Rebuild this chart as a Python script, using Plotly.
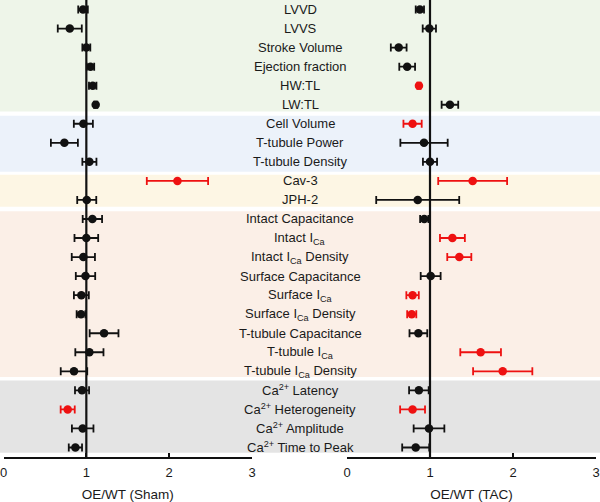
import plotly.graph_objects as go

categories = [
    "LVVD", "LVVS", "Stroke Volume", "Ejection fraction", "HW:TL", "LW:TL",
    "Cell Volume", "T-tubule Power", "T-tubule Density",
    "Cav-3", "JPH-2",
    "Intact Capacitance", "Intact I<sub>Ca</sub>", "Intact I<sub>Ca</sub> Density",
    "Surface Capacitance", "Surface I<sub>Ca</sub>", "Surface I<sub>Ca</sub> Density",
    "T-tubule Capacitance", "T-tubule I<sub>Ca</sub>", "T-tubule I<sub>Ca</sub> Density",
    "Ca<sup>2+</sup> Latency", "Ca<sup>2+</sup> Heterogeneity",
    "Ca<sup>2+</sup> Amplitude", "Ca<sup>2+</sup> Time to Peak",
]

sham_mean = [0.96, 0.80, 1.00, 1.05, 1.077, 1.113,
             0.964, 0.735, 1.037,
             2.10, 1.005,
             1.073, 1.00, 0.964, 0.99, 0.94, 0.936, 1.214, 1.037, 0.851,
             0.948, 0.775, 0.956, 0.868]
sham_err = [0.058, 0.145, 0.048, 0.045, 0.045, 0.02,
            0.115, 0.163, 0.085,
            0.37, 0.115,
            0.117, 0.143, 0.14, 0.117, 0.09, 0.053, 0.174, 0.17, 0.16,
            0.085, 0.085, 0.13, 0.08]
sham_sig = [False, False, False, False, False, False,
            False, False, False,
            True, False,
            False, False, False, False, False, False, False, False, False,
            False, True, False, False]

tac_mean = [0.878, 0.992, 0.623, 0.725, 0.867, 1.24,
            0.79, 0.928, 1.0,
            1.514, 0.852,
            0.931, 1.27, 1.353, 1.008, 0.79, 0.78, 0.86, 1.61, 1.876,
            0.866, 0.79, 0.988, 0.828]
tac_err = [0.05, 0.08, 0.095, 0.095, 0.02, 0.1,
           0.11, 0.285, 0.085,
           0.415, 0.5,
           0.05, 0.15, 0.145, 0.12, 0.075, 0.055, 0.107, 0.245, 0.357,
           0.118, 0.15, 0.185, 0.163]
tac_sig = [False, False, False, False, True, False,
           True, False, False,
           True, False,
           False, True, True, False, True, True, False, True, True,
           False, True, False, False]

tick_vals = [0, 1, 2, 3]
x_titles = ["OE/WT (Sham)", "OE/WT (TAC)"]

# groups: (first index, last index, colour)
groups = [
    (0, 5, "#eef5e9"),
    (6, 8, "#ecf2fa"),
    (9, 10, "#fdf6e4"),
    (11, 19, "#fbefe7"),
    (20, 23, "#e4e4e4"),
]

BLACK = "#111111"
RED = "#ee1111"
FONT = "Liberation Sans, Arial, sans-serif"

fig = go.Figure()

band_edges = {
    0: (-0.6, 5.36), 1: (5.58, 8.52), 2: (8.68, 10.36), 3: (10.6, 19.3), 4: (19.48, 23.28)
}
for gi, (a, b, col) in enumerate(groups):
    y0, y1 = band_edges[gi]
    fig.add_shape(type="rect", xref="paper", x0=0, x1=1, yref="y", y0=y0, y1=y1,
                  fillcolor=col, line_width=0, layer="below")

def add_panel(means, errs, sigs, xa):
    for sig, col in ((False, BLACK), (True, RED)):
        idx = [i for i in range(len(categories)) if sigs[i] == sig]
        fig.add_trace(go.Scatter(
            x=[means[i] for i in idx],
            y=[categories[i] for i in idx],
            xaxis=xa, yaxis="y",
            mode="markers",
            marker=dict(color=col, size=8.5),
            error_x=dict(type="data", array=[errs[i] for i in idx],
                         color=col, thickness=1.8, width=4),
            showlegend=False, hoverinfo="skip",
        ))

add_panel(sham_mean, sham_err, sham_sig, "x")
add_panel(tac_mean, tac_err, tac_sig, "x2")

for xr in ("x", "x2"):
    fig.add_shape(type="line", xref=xr, x0=1, x1=1, yref="paper", y0=0, y1=1,
                  line=dict(color=BLACK, width=2.2))

for c in categories:
    fig.add_annotation(x=0.5, xref="paper", y=c, yref="y", text=c, showarrow=False,
                       xanchor="center", yanchor="middle",
                       font=dict(family=FONT, size=13, color="#1a1a1a"))

axis_common = dict(range=[0, 3], tickvals=tick_vals, ticks="inside", ticklen=4,
                   tickwidth=1.5, tickcolor=BLACK, showline=True, linecolor=BLACK,
                   linewidth=1.5, showgrid=False, zeroline=False,
                   tickfont=dict(family=FONT, size=13, color="#1a1a1a"),
                   ticklabelstandoff=3, ticklabeloverflow="allow",
                   anchor="y", fixedrange=True, automargin=False)

fig.update_layout(
    width=600, height=502,
    margin=dict(l=0, r=0, t=0, b=45, autoexpand=False),
    paper_bgcolor="white", plot_bgcolor="rgba(0,0,0,0)",
    xaxis=dict(domain=[3.5 / 600, 252 / 600],
               title=dict(text=x_titles[0], font=dict(family=FONT, size=13.5, color="#1a1a1a"), standoff=11),
               **axis_common),
    xaxis2=dict(domain=[347 / 600, 596 / 600],
                title=dict(text=x_titles[1], font=dict(family=FONT, size=13.5, color="#1a1a1a"), standoff=11),
                **axis_common),
    yaxis=dict(type="category", categoryorder="array", categoryarray=categories,
               range=[23.5, -0.5], visible=False, fixedrange=True, domain=[0, 1]),
)

fig.write_html("out.html", config={"displayModeBar": False},
               post_script="document.body.style.margin='0';document.body.style.overflow='hidden';")
